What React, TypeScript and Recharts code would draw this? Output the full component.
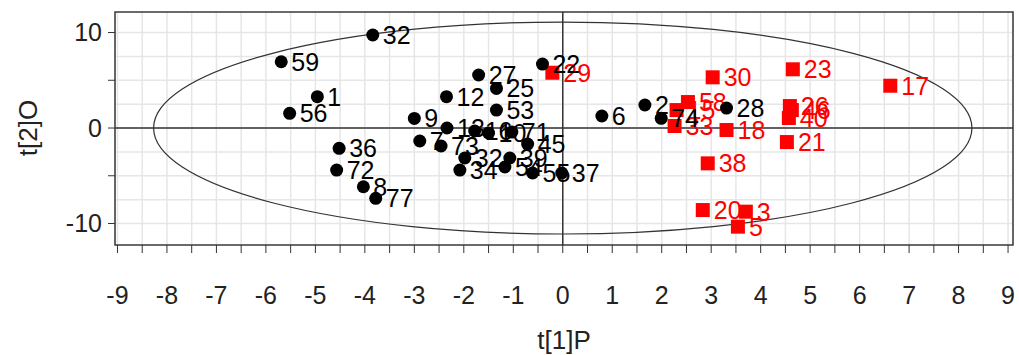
import { CartesianGrid, Label, ReferenceArea, ReferenceLine, Scatter, ScatterChart, XAxis, YAxis } from "recharts";

// class 1 (black circles)
const groupALabels = ["32", "59", "1", "56", "36", "72", "8", "77", "22", "27", "25", "12", "53", "9", "7", "73", "13", "16", "10", "71", "45", "32", "34", "54", "39", "55", "37", "6", "2", "74", "28"];
const groupAX = [-3.84, -5.69, -4.96, -5.52, -4.52, -4.57, -4.03, -3.78, -0.41, -1.7, -1.34, -2.35, -1.34, -3.0, -2.89, -2.46, -2.34, -1.78, -1.5, -1.03, -0.71, -1.98, -2.08, -1.17, -1.07, -0.61, -0.02, 0.79, 1.66, 1.99, 3.31];
const groupAY = [9.74, 6.94, 3.28, 1.54, -2.13, -4.4, -6.15, -7.36, 6.7, 5.55, 4.15, 3.28, 1.88, 1.01, -1.36, -1.88, 0.0, -0.31, -0.52, -0.42, -1.68, -3.14, -4.4, -4.08, -3.14, -4.71, -4.71, 1.26, 2.41, 1.02, 2.09];

// class 2 (red squares)
const groupBLabels = ["29", "30", "23", "17", "15", "58", "33", "18", "26", "46", "40", "21", "38", "20", "3", "5"];
const groupBX = [-0.21, 3.03, 4.65, 6.62, 2.3, 2.53, 2.26, 3.31, 4.59, 4.63, 4.57, 4.53, 2.93, 2.83, 3.7, 3.54];
const groupBY = [5.79, 5.31, 6.15, 4.43, 1.88, 2.72, 0.21, -0.21, 2.3, 1.88, 1.05, -1.47, -3.7, -8.59, -8.76, -10.33];

const xTicks = [-9, -8.5, -8, -7.5, -7, -6.5, -6, -5.5, -5, -4.5, -4, -3.5, -3, -2.5, -2, -1.5, -1, -0.5, 0, 0.5, 1, 1.5, 2, 2.5, 3, 3.5, 4, 4.5, 5, 5.5, 6, 6.5, 7, 7.5, 8, 8.5, 9];
const yTicks = [-10, -5, 0, 5, 10];
const yGrid = [-10, -7.5, -5, -2.5, 0, 2.5, 5, 7.5, 10];

// Hotelling T2 ellipse semi-axes
const ellipseA = 8.27;
const ellipseB = 11.1;

const xDomain = [-9.05, 9.1];
const yDomain = [-12.25, 12.15];

const groupA = groupALabels.map((label, i) => ({ label, x: groupAX[i], y: groupAY[i] }));
const groupB = groupBLabels.map((label, i) => ({ label, x: groupBX[i], y: groupBY[i] }));

const font = "'Liberation Sans', Arial, sans-serif";

function CircleMark(props: any) {
  const { cx, cy, payload } = props;
  return (
    <g>
      <circle cx={cx} cy={cy} r={6.5} fill="#000" />
      <text x={cx + 10} y={cy} dominantBaseline="central" fontSize={25} fontFamily={font} fill="#000">
        {payload.label}
      </text>
    </g>
  );
}

function SquareMark(props: any) {
  const { cx, cy, payload } = props;
  return (
    <g>
      <rect x={cx - 7} y={cy - 7} width={14} height={14} fill="#ff0000" />
      <text x={cx + 11} y={cy} dominantBaseline="central" fontSize={25} fontFamily={font} fill="#ff0000">
        {payload.label}
      </text>
    </g>
  );
}

function EllipseShape(props: any) {
  const { x, y, width, height } = props;
  return (
    <ellipse cx={x + width / 2} cy={y + height / 2} rx={width / 2} ry={height / 2} fill="none" stroke="#333" strokeWidth={1.2} />
  );
}

export default function App() {
  return (
    <div style={{ position: "absolute", left: 0, top: 0, width: 1019, height: 355, background: "#fff" }}>
      <ScatterChart width={1019} height={355} margin={{ top: 12, right: 6, bottom: 0, left: 0 }}>
        <CartesianGrid stroke="#e6e6e6" strokeWidth={1.5} horizontalValues={yGrid} />
        <XAxis
          type="number"
          dataKey="x"
          domain={xDomain}
          ticks={xTicks}
          interval={0}
          allowDataOverflow
          height={110}
          axisLine={false}
          tickSize={8}
          tickMargin={33}
          tickLine={{ stroke: "#333" }}
          tick={{ fill: "#222", fontSize: 25, fontFamily: font }}
          tickFormatter={(v) => (Number.isInteger(v) ? String(v) : "")}
        >
          <Label value="t[1]P" position="insideBottom" offset={6} fill="#222" fontSize={26} fontFamily={font} />
        </XAxis>
        <YAxis
          type="number"
          dataKey="y"
          domain={yDomain}
          ticks={yTicks}
          interval={0}
          allowDataOverflow
          width={115}
          axisLine={false}
          tickSize={7}
          tickMargin={6}
          tickLine={{ stroke: "#333" }}
          tick={{ fill: "#222", fontSize: 25, fontFamily: font }}
          tickFormatter={(v) => (v % 10 === 0 ? String(v) : "")}
        >
          <Label
            content={() => (
              <text x={28} y={128} transform="rotate(-90 28 128)" textAnchor="middle" dominantBaseline="central" fontSize={26} fontFamily={font} fill="#222">
                t[2]O
              </text>
            )}
          />
        </YAxis>
        <ReferenceArea x1={-ellipseA} x2={ellipseA} y1={-ellipseB} y2={ellipseB} shape={<EllipseShape />} />
        <ReferenceLine x={0} stroke="#333" strokeWidth={1.5} />
        <ReferenceLine y={0} stroke="#333" strokeWidth={1.5} />
        <ReferenceArea x1={xDomain[0]} x2={xDomain[1]} y1={yDomain[0]} y2={yDomain[1]} fill="none" fillOpacity={0} stroke="#3a3a3a" strokeWidth={1.5} />
        <Scatter data={groupB} shape={<SquareMark />} isAnimationActive={false} />
        <Scatter data={groupA} shape={<CircleMark />} isAnimationActive={false} />
      </ScatterChart>
    </div>
  );
}
